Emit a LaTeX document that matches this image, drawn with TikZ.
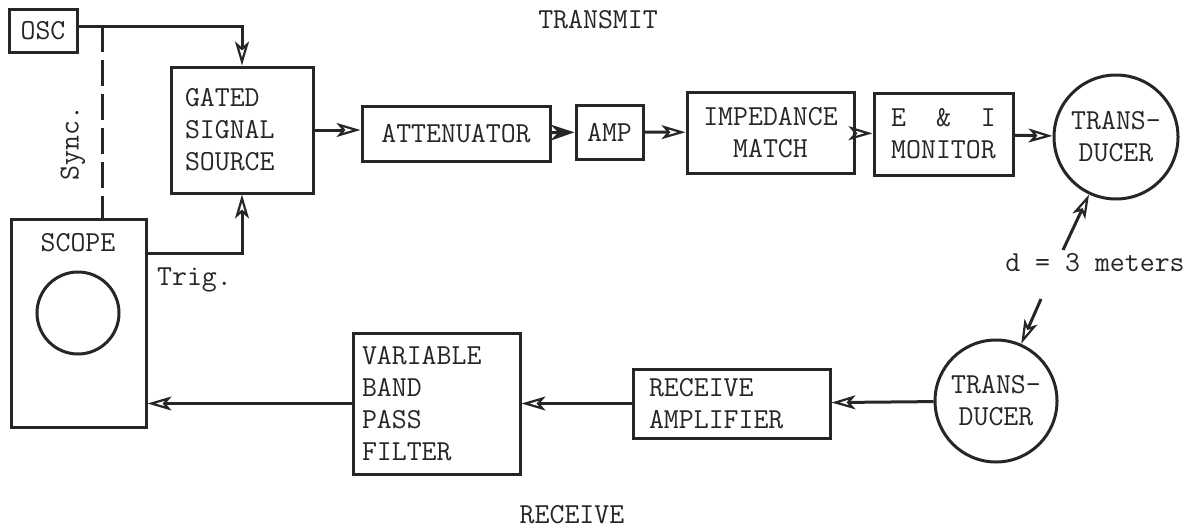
\documentclass[tikz,border=0pt]{standalone}
\usepackage{tikz}
\usetikzlibrary{arrows.meta}

\begin{document}
\begin{tikzpicture}[x=0.5pt,y=-0.5pt,color=black!85,line width=1.5pt,
    font=\ttfamily\fontsize{14.5}{16}\selectfont,
    blk/.style={draw,inner sep=0pt},
    arr/.style={-{Stealth[open,length=12pt,width=7pt,inset=3pt,line width=1.1pt]}}]
    \useasboundingbox (0,0) rectangle (1203,530);
    % transmit side
    \node[blk,minimum width=34pt,minimum height=21.5pt] (osc) at (43,30.5) {OSC};
    \node[blk,minimum width=71pt,minimum height=63pt,text width=57pt,inner xsep=7pt,align=left] (gated) at (242,130) {GATED\\SIGNAL\\SOURCE};
    \node[blk,minimum width=94pt,minimum height=27.5pt] (atten) at (456,133.5) {ATTENUATOR};
    \node[blk,minimum width=33.5pt,minimum height=27pt] (amp) at (609.5,132) {AMP};
    \node[blk,minimum width=83.5pt,minimum height=40.5pt,align=center] (match) at (770.5,132.5) {IMPEDANCE\\MATCH};
    \node[blk,minimum width=69.5pt,minimum height=41pt,align=center] (monitor) at (943.5,134) {E\ \ \&\ \ I\\MONITOR};
    \node[blk,circle,minimum size=62pt,align=center] (txd) at (1116,137) {TRANS-\\DUCER};
    % receive side
    \node[blk,circle,minimum size=61pt,align=center] (rxd) at (996,401) {TRANS-\\DUCER};
    \node[blk,minimum width=98.5pt,minimum height=34.5pt,text width=82.5pt,inner xsep=8pt,align=left] (rxamp) at (731.5,403.5) {RECEIVE\\AMPLIFIER};
    \node[blk,minimum width=83.5pt,minimum height=70.5pt,text width=74.5pt,inner xsep=4.5pt,align=left] (filter) at (436.5,403.5) {VARIABLE\\BAND\\PASS\\FILTER};
    \node[blk,minimum width=67.5pt,minimum height=104pt] (scope) at (78.5,323) {};
    \node (scopelbl) at (78,243) {SCOPE};
    \node[blk,circle,minimum size=41pt] (screen) at (78,313) {};
    % labels
    \node (transmit) at (598,20) {TRANSMIT};
    \node (receive) at (572,515) {RECEIVE};
    \node[rotate=90] (sync) at (73,143) {Sync.};
    \node[anchor=west] (trig) at (149,280) {Trig.};
    \node (dist) at (1095,263) {d = 3 meters};
    \coordinate (synctop) at (102,26);
    \coordinate (dup) at (1063,250);
    \coordinate (ddown) at (1041,299);
    % connectors
    \draw[arr] ([yshift=2.25pt]osc.east) -| (gated.north);
    \draw[dash pattern=on 13pt off 4pt] (synctop) -- (synctop |- scope.north);
    \draw[arr] ([yshift=35pt]scope.east) -| (gated.south);
    \draw[arr] (gated.east) -- (gated.east -| atten.west);
    \draw[-{Stealth[length=12pt,width=8pt]}] (atten) -- (amp);
    \draw[arr] (amp) -- (match);
    \draw[arr] (match) -- (monitor);
    \draw[arr] (monitor) -- (txd);
    \draw[arr] (dup) -- (txd);
    \draw[arr] (ddown) -- (rxd);
    \draw[arr] (rxd) -- (rxamp);
    \draw[arr] (rxamp) -- (filter);
    \draw[arr] (filter.west) -- (filter.west -| scope.east);
\end{tikzpicture}
\end{document}
